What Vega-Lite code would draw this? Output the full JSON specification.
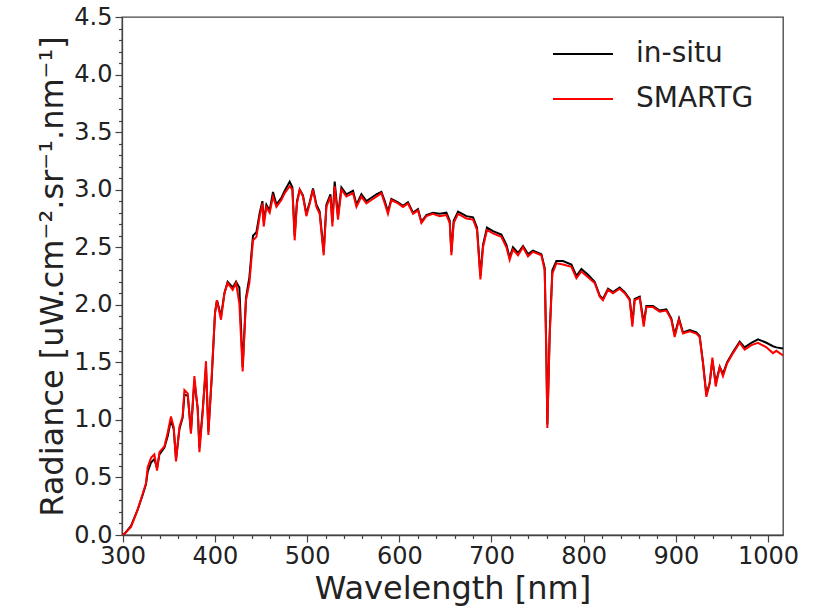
{
  "$schema": "https://vega.github.io/schema/vega-lite/v6.json",
  "width": 661,
  "height": 518,
  "autosize": {"type": "none"},
  "padding": {"left": 122, "top": 17, "right": 45, "bottom": 76},
  "background": "white",
  "config": {
    "font": "DejaVu Sans",
    "view": {"stroke": "#444", "strokeWidth": 1.3},
    "axis": {"grid": false, "domainColor": "#444", "domainWidth": 1.3, "tickColor": "#444", "tickWidth": 1.2, "labelColor": "#222", "titleColor": "#222", "labelFont": "DejaVu Sans", "titleFont": "DejaVu Sans", "titleFontWeight": "normal"}
  },
  "data": {"values": [
    {"wl":299.2,"r":0.00,"s":"in-situ"},{"wl":301.8,"r":0.01,"s":"in-situ"},{"wl":309.0,"r":0.08,"s":"in-situ"},{"wl":316.2,"r":0.22,"s":"in-situ"},{"wl":321.7,"r":0.35,"s":"in-situ"},{"wl":325.2,"r":0.44,"s":"in-situ"},{"wl":327.1,"r":0.55,"s":"in-situ"},{"wl":330.7,"r":0.63,"s":"in-situ"},{"wl":334.3,"r":0.66,"s":"in-situ"},{"wl":337.2,"r":0.58,"s":"in-situ"},{"wl":339.8,"r":0.70,"s":"in-situ"},{"wl":345.2,"r":0.76,"s":"in-situ"},{"wl":348.8,"r":0.86,"s":"in-situ"},{"wl":352.3,"r":1.00,"s":"in-situ"},{"wl":355.3,"r":0.92,"s":"in-situ"},{"wl":357.8,"r":0.66,"s":"in-situ"},{"wl":361.5,"r":0.92,"s":"in-situ"},{"wl":365.0,"r":1.02,"s":"in-situ"},{"wl":366.9,"r":1.22,"s":"in-situ"},{"wl":370.5,"r":1.21,"s":"in-situ"},{"wl":374.0,"r":0.90,"s":"in-situ"},{"wl":377.7,"r":1.34,"s":"in-situ"},{"wl":381.3,"r":1.10,"s":"in-situ"},{"wl":383.2,"r":0.76,"s":"in-situ"},{"wl":386.7,"r":1.08,"s":"in-situ"},{"wl":390.3,"r":1.46,"s":"in-situ"},{"wl":392.9,"r":0.90,"s":"in-situ"},{"wl":396.5,"r":1.36,"s":"in-situ"},{"wl":400.1,"r":1.93,"s":"in-situ"},{"wl":402.2,"r":2.04,"s":"in-situ"},{"wl":406.6,"r":1.90,"s":"in-situ"},{"wl":410.3,"r":2.10,"s":"in-situ"},{"wl":413.8,"r":2.20,"s":"in-situ"},{"wl":419.3,"r":2.15,"s":"in-situ"},{"wl":422.9,"r":2.20,"s":"in-situ"},{"wl":426.5,"r":2.15,"s":"in-situ"},{"wl":430.1,"r":1.46,"s":"in-situ"},{"wl":433.7,"r":2.06,"s":"in-situ"},{"wl":437.4,"r":2.24,"s":"in-situ"},{"wl":441.3,"r":2.60,"s":"in-situ"},{"wl":445.0,"r":2.63,"s":"in-situ"},{"wl":448.6,"r":2.80,"s":"in-situ"},{"wl":451.5,"r":2.90,"s":"in-situ"},{"wl":452.9,"r":2.72,"s":"in-situ"},{"wl":455.8,"r":2.87,"s":"in-situ"},{"wl":459.4,"r":2.82,"s":"in-situ"},{"wl":463.0,"r":2.98,"s":"in-situ"},{"wl":466.7,"r":2.87,"s":"in-situ"},{"wl":472.1,"r":2.93,"s":"in-situ"},{"wl":475.7,"r":2.99,"s":"in-situ"},{"wl":481.1,"r":3.07,"s":"in-situ"},{"wl":484.0,"r":3.02,"s":"in-situ"},{"wl":486.5,"r":2.60,"s":"in-situ"},{"wl":489.0,"r":2.90,"s":"in-situ"},{"wl":492.0,"r":3.00,"s":"in-situ"},{"wl":495.5,"r":2.95,"s":"in-situ"},{"wl":499.2,"r":2.79,"s":"in-situ"},{"wl":502.8,"r":2.89,"s":"in-situ"},{"wl":506.4,"r":3.01,"s":"in-situ"},{"wl":510.1,"r":2.87,"s":"in-situ"},{"wl":513.6,"r":2.81,"s":"in-situ"},{"wl":518.0,"r":2.46,"s":"in-situ"},{"wl":520.9,"r":2.87,"s":"in-situ"},{"wl":525.3,"r":2.96,"s":"in-situ"},{"wl":527.4,"r":2.72,"s":"in-situ"},{"wl":529.9,"r":3.07,"s":"in-situ"},{"wl":533.5,"r":2.77,"s":"in-situ"},{"wl":537.2,"r":3.02,"s":"in-situ"},{"wl":542.6,"r":2.96,"s":"in-situ"},{"wl":549.8,"r":2.99,"s":"in-situ"},{"wl":553.5,"r":2.87,"s":"in-situ"},{"wl":558.9,"r":2.96,"s":"in-situ"},{"wl":564.3,"r":2.90,"s":"in-situ"},{"wl":569.7,"r":2.93,"s":"in-situ"},{"wl":575.1,"r":2.96,"s":"in-situ"},{"wl":580.6,"r":2.98,"s":"in-situ"},{"wl":584.2,"r":2.90,"s":"in-situ"},{"wl":587.7,"r":2.81,"s":"in-situ"},{"wl":591.4,"r":2.92,"s":"in-situ"},{"wl":598.6,"r":2.89,"s":"in-situ"},{"wl":604.0,"r":2.86,"s":"in-situ"},{"wl":609.4,"r":2.89,"s":"in-situ"},{"wl":614.9,"r":2.80,"s":"in-situ"},{"wl":620.3,"r":2.83,"s":"in-situ"},{"wl":624.0,"r":2.72,"s":"in-situ"},{"wl":629.4,"r":2.78,"s":"in-situ"},{"wl":636.5,"r":2.80,"s":"in-situ"},{"wl":643.8,"r":2.79,"s":"in-situ"},{"wl":651.1,"r":2.80,"s":"in-situ"},{"wl":654.7,"r":2.73,"s":"in-situ"},{"wl":656.5,"r":2.46,"s":"in-situ"},{"wl":659.0,"r":2.73,"s":"in-situ"},{"wl":663.7,"r":2.81,"s":"in-situ"},{"wl":672.8,"r":2.77,"s":"in-situ"},{"wl":680.0,"r":2.76,"s":"in-situ"},{"wl":684.3,"r":2.67,"s":"in-situ"},{"wl":688.0,"r":2.25,"s":"in-situ"},{"wl":690.8,"r":2.52,"s":"in-situ"},{"wl":695.1,"r":2.67,"s":"in-situ"},{"wl":701.6,"r":2.64,"s":"in-situ"},{"wl":710.7,"r":2.61,"s":"in-situ"},{"wl":716.2,"r":2.52,"s":"in-situ"},{"wl":719.7,"r":2.41,"s":"in-situ"},{"wl":723.3,"r":2.50,"s":"in-situ"},{"wl":728.8,"r":2.45,"s":"in-situ"},{"wl":734.2,"r":2.51,"s":"in-situ"},{"wl":739.6,"r":2.44,"s":"in-situ"},{"wl":745.0,"r":2.47,"s":"in-situ"},{"wl":754.1,"r":2.44,"s":"in-situ"},{"wl":757.7,"r":2.32,"s":"in-situ"},{"wl":759.5,"r":1.58,"s":"in-situ"},{"wl":760.6,"r":0.96,"s":"in-situ"},{"wl":763.1,"r":1.75,"s":"in-situ"},{"wl":766.0,"r":2.30,"s":"in-situ"},{"wl":770.4,"r":2.38,"s":"in-situ"},{"wl":777.5,"r":2.38,"s":"in-situ"},{"wl":786.7,"r":2.35,"s":"in-situ"},{"wl":792.1,"r":2.25,"s":"in-situ"},{"wl":797.5,"r":2.31,"s":"in-situ"},{"wl":804.7,"r":2.26,"s":"in-situ"},{"wl":811.9,"r":2.20,"s":"in-situ"},{"wl":817.4,"r":2.08,"s":"in-situ"},{"wl":820.9,"r":2.05,"s":"in-situ"},{"wl":826.4,"r":2.14,"s":"in-situ"},{"wl":831.8,"r":2.11,"s":"in-situ"},{"wl":839.0,"r":2.15,"s":"in-situ"},{"wl":844.5,"r":2.11,"s":"in-situ"},{"wl":849.9,"r":2.05,"s":"in-situ"},{"wl":852.8,"r":1.84,"s":"in-situ"},{"wl":855.3,"r":2.05,"s":"in-situ"},{"wl":860.8,"r":2.07,"s":"in-situ"},{"wl":865.1,"r":1.84,"s":"in-situ"},{"wl":868.0,"r":1.99,"s":"in-situ"},{"wl":875.2,"r":1.99,"s":"in-situ"},{"wl":882.4,"r":1.95,"s":"in-situ"},{"wl":889.7,"r":1.96,"s":"in-situ"},{"wl":895.1,"r":1.88,"s":"in-situ"},{"wl":898.7,"r":1.74,"s":"in-situ"},{"wl":903.4,"r":1.88,"s":"in-situ"},{"wl":907.7,"r":1.76,"s":"in-situ"},{"wl":915.0,"r":1.78,"s":"in-situ"},{"wl":922.2,"r":1.76,"s":"in-situ"},{"wl":925.8,"r":1.73,"s":"in-situ"},{"wl":929.4,"r":1.50,"s":"in-situ"},{"wl":933.1,"r":1.22,"s":"in-situ"},{"wl":936.7,"r":1.32,"s":"in-situ"},{"wl":939.6,"r":1.52,"s":"in-situ"},{"wl":943.2,"r":1.32,"s":"in-situ"},{"wl":947.6,"r":1.46,"s":"in-situ"},{"wl":951.1,"r":1.40,"s":"in-situ"},{"wl":955.5,"r":1.50,"s":"in-situ"},{"wl":962.0,"r":1.59,"s":"in-situ"},{"wl":969.2,"r":1.68,"s":"in-situ"},{"wl":974.6,"r":1.63,"s":"in-situ"},{"wl":981.9,"r":1.67,"s":"in-situ"},{"wl":989.1,"r":1.70,"s":"in-situ"},{"wl":998.2,"r":1.67,"s":"in-situ"},{"wl":1005.3,"r":1.64,"s":"in-situ"},{"wl":1009.0,"r":1.63,"s":"in-situ"},{"wl":1016.2,"r":1.62,"s":"in-situ"},

    {"wl":299.2,"r":0.00,"s":"SMARTG"},{"wl":301.8,"r":0.01,"s":"SMARTG"},{"wl":309.0,"r":0.07,"s":"SMARTG"},{"wl":316.2,"r":0.22,"s":"SMARTG"},{"wl":321.7,"r":0.36,"s":"SMARTG"},{"wl":325.2,"r":0.45,"s":"SMARTG"},{"wl":327.1,"r":0.59,"s":"SMARTG"},{"wl":330.7,"r":0.67,"s":"SMARTG"},{"wl":334.3,"r":0.70,"s":"SMARTG"},{"wl":337.2,"r":0.56,"s":"SMARTG"},{"wl":339.8,"r":0.72,"s":"SMARTG"},{"wl":345.2,"r":0.77,"s":"SMARTG"},{"wl":348.8,"r":0.89,"s":"SMARTG"},{"wl":352.3,"r":1.03,"s":"SMARTG"},{"wl":355.3,"r":0.94,"s":"SMARTG"},{"wl":357.8,"r":0.64,"s":"SMARTG"},{"wl":361.5,"r":0.94,"s":"SMARTG"},{"wl":365.0,"r":1.03,"s":"SMARTG"},{"wl":366.9,"r":1.26,"s":"SMARTG"},{"wl":370.5,"r":1.23,"s":"SMARTG"},{"wl":374.0,"r":0.88,"s":"SMARTG"},{"wl":377.7,"r":1.38,"s":"SMARTG"},{"wl":381.3,"r":1.09,"s":"SMARTG"},{"wl":383.2,"r":0.72,"s":"SMARTG"},{"wl":386.7,"r":1.06,"s":"SMARTG"},{"wl":390.3,"r":1.51,"s":"SMARTG"},{"wl":392.9,"r":0.87,"s":"SMARTG"},{"wl":396.5,"r":1.38,"s":"SMARTG"},{"wl":400.1,"r":1.93,"s":"SMARTG"},{"wl":402.2,"r":2.04,"s":"SMARTG"},{"wl":406.6,"r":1.87,"s":"SMARTG"},{"wl":410.3,"r":2.10,"s":"SMARTG"},{"wl":413.8,"r":2.19,"s":"SMARTG"},{"wl":419.3,"r":2.13,"s":"SMARTG"},{"wl":422.9,"r":2.19,"s":"SMARTG"},{"wl":426.5,"r":2.01,"s":"SMARTG"},{"wl":430.1,"r":1.42,"s":"SMARTG"},{"wl":433.7,"r":2.04,"s":"SMARTG"},{"wl":437.4,"r":2.19,"s":"SMARTG"},{"wl":441.3,"r":2.56,"s":"SMARTG"},{"wl":445.0,"r":2.59,"s":"SMARTG"},{"wl":448.6,"r":2.77,"s":"SMARTG"},{"wl":451.5,"r":2.88,"s":"SMARTG"},{"wl":452.9,"r":2.68,"s":"SMARTG"},{"wl":455.8,"r":2.85,"s":"SMARTG"},{"wl":459.4,"r":2.80,"s":"SMARTG"},{"wl":463.0,"r":2.94,"s":"SMARTG"},{"wl":466.7,"r":2.85,"s":"SMARTG"},{"wl":472.1,"r":2.91,"s":"SMARTG"},{"wl":475.7,"r":2.97,"s":"SMARTG"},{"wl":481.1,"r":3.03,"s":"SMARTG"},{"wl":484.0,"r":3.00,"s":"SMARTG"},{"wl":486.5,"r":2.56,"s":"SMARTG"},{"wl":489.0,"r":2.88,"s":"SMARTG"},{"wl":492.0,"r":3.00,"s":"SMARTG"},{"wl":495.5,"r":2.94,"s":"SMARTG"},{"wl":499.2,"r":2.77,"s":"SMARTG"},{"wl":502.8,"r":2.88,"s":"SMARTG"},{"wl":506.4,"r":3.00,"s":"SMARTG"},{"wl":510.1,"r":2.85,"s":"SMARTG"},{"wl":513.6,"r":2.79,"s":"SMARTG"},{"wl":518.0,"r":2.43,"s":"SMARTG"},{"wl":520.9,"r":2.85,"s":"SMARTG"},{"wl":525.3,"r":2.94,"s":"SMARTG"},{"wl":527.4,"r":2.68,"s":"SMARTG"},{"wl":529.9,"r":3.03,"s":"SMARTG"},{"wl":533.5,"r":2.74,"s":"SMARTG"},{"wl":537.2,"r":3.00,"s":"SMARTG"},{"wl":542.6,"r":2.94,"s":"SMARTG"},{"wl":549.8,"r":2.97,"s":"SMARTG"},{"wl":553.5,"r":2.85,"s":"SMARTG"},{"wl":558.9,"r":2.94,"s":"SMARTG"},{"wl":564.3,"r":2.88,"s":"SMARTG"},{"wl":569.7,"r":2.91,"s":"SMARTG"},{"wl":575.1,"r":2.94,"s":"SMARTG"},{"wl":580.6,"r":2.97,"s":"SMARTG"},{"wl":584.2,"r":2.88,"s":"SMARTG"},{"wl":587.7,"r":2.79,"s":"SMARTG"},{"wl":591.4,"r":2.91,"s":"SMARTG"},{"wl":598.6,"r":2.88,"s":"SMARTG"},{"wl":604.0,"r":2.85,"s":"SMARTG"},{"wl":609.4,"r":2.88,"s":"SMARTG"},{"wl":614.9,"r":2.79,"s":"SMARTG"},{"wl":620.3,"r":2.82,"s":"SMARTG"},{"wl":624.0,"r":2.71,"s":"SMARTG"},{"wl":629.4,"r":2.77,"s":"SMARTG"},{"wl":636.5,"r":2.79,"s":"SMARTG"},{"wl":643.8,"r":2.77,"s":"SMARTG"},{"wl":651.1,"r":2.78,"s":"SMARTG"},{"wl":654.7,"r":2.71,"s":"SMARTG"},{"wl":656.5,"r":2.43,"s":"SMARTG"},{"wl":659.0,"r":2.71,"s":"SMARTG"},{"wl":663.7,"r":2.79,"s":"SMARTG"},{"wl":672.8,"r":2.75,"s":"SMARTG"},{"wl":680.0,"r":2.74,"s":"SMARTG"},{"wl":684.3,"r":2.65,"s":"SMARTG"},{"wl":688.0,"r":2.22,"s":"SMARTG"},{"wl":690.8,"r":2.50,"s":"SMARTG"},{"wl":695.1,"r":2.65,"s":"SMARTG"},{"wl":701.6,"r":2.62,"s":"SMARTG"},{"wl":710.7,"r":2.59,"s":"SMARTG"},{"wl":716.2,"r":2.50,"s":"SMARTG"},{"wl":719.7,"r":2.39,"s":"SMARTG"},{"wl":723.3,"r":2.48,"s":"SMARTG"},{"wl":728.8,"r":2.43,"s":"SMARTG"},{"wl":734.2,"r":2.50,"s":"SMARTG"},{"wl":739.6,"r":2.42,"s":"SMARTG"},{"wl":745.0,"r":2.46,"s":"SMARTG"},{"wl":754.1,"r":2.43,"s":"SMARTG"},{"wl":757.7,"r":2.30,"s":"SMARTG"},{"wl":759.5,"r":1.55,"s":"SMARTG"},{"wl":760.6,"r":0.93,"s":"SMARTG"},{"wl":763.1,"r":1.72,"s":"SMARTG"},{"wl":766.0,"r":2.27,"s":"SMARTG"},{"wl":770.4,"r":2.36,"s":"SMARTG"},{"wl":777.5,"r":2.35,"s":"SMARTG"},{"wl":786.7,"r":2.33,"s":"SMARTG"},{"wl":792.1,"r":2.23,"s":"SMARTG"},{"wl":797.5,"r":2.29,"s":"SMARTG"},{"wl":804.7,"r":2.24,"s":"SMARTG"},{"wl":811.9,"r":2.19,"s":"SMARTG"},{"wl":817.4,"r":2.07,"s":"SMARTG"},{"wl":820.9,"r":2.04,"s":"SMARTG"},{"wl":826.4,"r":2.13,"s":"SMARTG"},{"wl":831.8,"r":2.10,"s":"SMARTG"},{"wl":839.0,"r":2.14,"s":"SMARTG"},{"wl":844.5,"r":2.10,"s":"SMARTG"},{"wl":849.9,"r":2.04,"s":"SMARTG"},{"wl":852.8,"r":1.81,"s":"SMARTG"},{"wl":855.3,"r":2.04,"s":"SMARTG"},{"wl":860.8,"r":2.06,"s":"SMARTG"},{"wl":865.1,"r":1.81,"s":"SMARTG"},{"wl":868.0,"r":1.98,"s":"SMARTG"},{"wl":875.2,"r":1.98,"s":"SMARTG"},{"wl":882.4,"r":1.94,"s":"SMARTG"},{"wl":889.7,"r":1.95,"s":"SMARTG"},{"wl":895.1,"r":1.87,"s":"SMARTG"},{"wl":898.7,"r":1.72,"s":"SMARTG"},{"wl":903.4,"r":1.87,"s":"SMARTG"},{"wl":907.7,"r":1.75,"s":"SMARTG"},{"wl":915.0,"r":1.77,"s":"SMARTG"},{"wl":922.2,"r":1.75,"s":"SMARTG"},{"wl":925.8,"r":1.72,"s":"SMARTG"},{"wl":929.4,"r":1.49,"s":"SMARTG"},{"wl":933.1,"r":1.20,"s":"SMARTG"},{"wl":936.7,"r":1.32,"s":"SMARTG"},{"wl":939.6,"r":1.54,"s":"SMARTG"},{"wl":943.2,"r":1.29,"s":"SMARTG"},{"wl":947.6,"r":1.46,"s":"SMARTG"},{"wl":951.1,"r":1.38,"s":"SMARTG"},{"wl":955.5,"r":1.49,"s":"SMARTG"},{"wl":962.0,"r":1.58,"s":"SMARTG"},{"wl":969.2,"r":1.67,"s":"SMARTG"},{"wl":974.6,"r":1.61,"s":"SMARTG"},{"wl":981.9,"r":1.65,"s":"SMARTG"},{"wl":989.1,"r":1.67,"s":"SMARTG"},{"wl":998.2,"r":1.63,"s":"SMARTG"},{"wl":1005.3,"r":1.58,"s":"SMARTG"},{"wl":1009.0,"r":1.60,"s":"SMARTG"},{"wl":1016.2,"r":1.56,"s":"SMARTG"}
  ]},
  "mark": {"type": "line", "strokeWidth": 2, "clip": true},
  "encoding": {
    "x": {
      "field": "wl", "type": "quantitative",
      "scale": {"domain": [299.2, 1016.2], "nice": false, "zero": false},
      "axis": {
        "title": "Wavelength [nm]", "titleFontSize": 32, "titlePadding": 5,
        "values": [300,320,340,360,380,400,420,440,460,480,500,520,540,560,580,600,620,640,660,680,700,720,740,760,780,800,820,840,860,880,900,920,940,960,980,1000],
        "labelExpr": "datum.value % 100 === 0 ? format(datum.value, 'd') : ''",
        "labelFontSize": 24, "labelPadding": 2, "labelOverlap": false, "labelBound": false, "labelFlush": false,
        "tickSize": {"condition": {"test": "datum.value % 100 === 0", "value": 7}, "value": 3.5}
      }
    },
    "y": {
      "field": "r", "type": "quantitative",
      "scale": {"domain": [0, 4.5], "nice": false},
      "axis": {
        "title": "Radiance [uW.cm⁻².sr⁻¹.nm⁻¹]", "titleFontSize": 32, "titlePadding": 4,
        "values": [0,0.1,0.2,0.3,0.4,0.5,0.6,0.7,0.8,0.9,1.0,1.1,1.2,1.3,1.4,1.5,1.6,1.7,1.8,1.9,2.0,2.1,2.2,2.3,2.4,2.5,2.6,2.7,2.8,2.9,3.0,3.1,3.2,3.3,3.4,3.5,3.6,3.7,3.8,3.9,4.0,4.1,4.2,4.3,4.4,4.5],
        "labelExpr": "abs(datum.value*2 - round(datum.value*2)) < 0.001 ? format(datum.value, '.1f') : ''",
        "labelFontSize": 24, "labelPadding": 3, "labelOverlap": false, "labelBound": false, "labelFlush": false,
        "tickSize": {"condition": {"test": "abs(datum.value*2 - round(datum.value*2)) < 0.001", "value": 7}, "value": 3.5}
      }
    },
    "color": {
      "field": "s", "type": "nominal",
      "scale": {"domain": ["in-situ", "SMARTG"], "range": ["#000000", "#ff0000"]},
      "legend": {
        "title": null, "orient": "none", "legendX": 430, "legendY": 6, "padding": 0,
        "symbolType": "stroke", "symbolStrokeWidth": 2, "symbolSize": 3600, "rowPadding": -14,
        "labelFontSize": 28, "labelFont": "DejaVu Sans", "labelColor": "#222", "labelOffset": 22
      }
    }
  }
}
